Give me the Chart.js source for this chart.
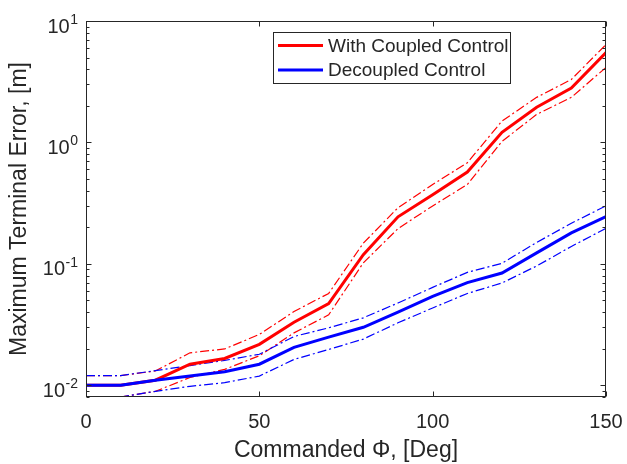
<!DOCTYPE html>
<html>
<head>
<meta charset="utf-8">
<script src="https://cdn.jsdelivr.net/npm/chart.js@4.4.1/dist/chart.umd.min.js"></script>
<style>
  html, body { margin: 0; padding: 0; background: #fff; }
  #wrap { width: 627px; height: 464px; }
</style>
</head>
<body>
<div id="wrap"><canvas id="errChart" width="627" height="464"></canvas></div>
<script>
// commanded roll angle, deg
var phi = [0, 10, 20, 30, 40, 50, 60, 70, 80, 90, 100, 110, 120, 130, 140, 150];

// max terminal error [m]
var coupledMean  = [0.010, 0.010, 0.011, 0.0149, 0.0166, 0.0217, 0.033, 0.047, 0.119, 0.244, 0.37, 0.57, 1.21, 1.95, 2.8, 5.5];
var coupledUpper = [0.012, 0.012, 0.0131, 0.0185, 0.0199, 0.0262, 0.0405, 0.057, 0.148, 0.29, 0.45, 0.68, 1.5, 2.35, 3.3, 6.4];
var coupledLower = [0.008, 0.008, 0.0089, 0.0116, 0.0135, 0.0175, 0.027, 0.038, 0.102, 0.195, 0.30, 0.45, 1.02, 1.7, 2.35, 4.15];

var decoupledMean  = [0.010, 0.010, 0.011, 0.0119, 0.0129, 0.0149, 0.0205, 0.0249, 0.030, 0.040, 0.054, 0.070, 0.084, 0.123, 0.18, 0.245];
var decoupledUpper = [0.012, 0.012, 0.0132, 0.0145, 0.016, 0.018, 0.0252, 0.0297, 0.0359, 0.0476, 0.064, 0.085, 0.101, 0.15, 0.216, 0.30];
var decoupledLower = [0.008, 0.008, 0.0089, 0.0098, 0.0105, 0.0119, 0.0163, 0.0197, 0.024, 0.0327, 0.0433, 0.057, 0.0695, 0.096, 0.139, 0.196];

// tick labels
var xTickValues = [0, 50, 100, 150];
var yTickExponents = [-2, -1, 0, 1];

var seriesNames = ["With Coupled Control", "Decoupled Control"];

var RED = "#ff0000";
var BLUE = "#0000ff";
var INK = "#262626";
var FONT = "'Liberation Sans', Arial, Helvetica, sans-serif";

function pts(vals) {
    return phi.map(function (p, i) { return { x: p, y: vals[i] }; });
}

function mainLine(label, vals, color) {
    return { label: label, data: pts(vals), borderColor: color, borderWidth: 3,
             pointRadius: 0, tension: 0, fill: false, isMain: true };
}
function boundLine(vals, color) {
    return { label: "", data: pts(vals), borderColor: color, borderWidth: 1.2,
             borderDash: [9, 3, 2, 3], pointRadius: 0, tension: 0, fill: false };
}

//box, inward ticks, tick labels, legend
var matlabAxes = {
    id: "matlabAxes",
    afterDraw: function (chart) {
        var c = chart.ctx;
        var a = chart.chartArea;
        var xs = chart.scales.x, ys = chart.scales.y;
        var L = Math.round(a.left) + 0.5, R = Math.round(a.right) - 0.5;
        var T = Math.round(a.top) + 0.5, B = Math.round(a.bottom) - 0.5;
        c.save();
        c.strokeStyle = INK;
        c.lineWidth = 1;
        c.strokeRect(L, T, R - L, B - T);

        c.beginPath();
        xTickValues.forEach(function (v) {
            var px = Math.round(xs.getPixelForValue(v)) + 0.5;
            c.moveTo(px, B); c.lineTo(px, B - 5);
            c.moveTo(px, T); c.lineTo(px, T + 5);
        });
        for (var d = -3; d <= 1; d++) {
            for (var k = 1; k <= 9; k++) {
                var v = k * Math.pow(10, d);
                if (v < ys.min - 1e-12 || v > ys.max + 1e-12) continue;
                var py = Math.round(ys.getPixelForValue(v)) + 0.5;
                var len = k === 1 ? 5 : 3;
                c.moveTo(L, py); c.lineTo(L + len, py);
                c.moveTo(R, py); c.lineTo(R - len, py);
            }
        }
        c.stroke();

        c.fillStyle = INK;
        // x tick labels
        c.font = "20px " + FONT;
        c.textAlign = "center";
        c.textBaseline = "alphabetic";
        xTickValues.forEach(function (v) {
            c.fillText(String(v), xs.getPixelForValue(v), a.bottom + 31);
        });

        // y tick labels 10^n
        c.textAlign = "right";
        yTickExponents.forEach(function (e) {
            var py = ys.getPixelForValue(Math.pow(10, e));
            var xr = a.left - 8;
            c.font = "14px " + FONT;
            var ex = String(e);
            var ew = c.measureText(ex).width;
            c.fillText(ex, xr, py + 3);
            c.font = "20px " + FONT;
            c.fillText("10", xr - ew - 0.5, py + 11.5);
        });

        // legend
        var lx = 273.5, ly = 32.5, lw = 237, lh = 51;
        c.fillStyle = "#fff";
        c.fillRect(lx, ly, lw, lh);
        c.strokeStyle = INK;
        c.lineWidth = 1;
        c.strokeRect(lx, ly, lw, lh);
        var mains = chart.data.datasets.filter(function (ds) { return ds.isMain; });
        mains.sort(function (p, q) { return seriesNames.indexOf(p.label) - seriesNames.indexOf(q.label); });
        c.font = "19px " + FONT;
        c.textAlign = "left";
        c.textBaseline = "middle";
        mains.forEach(function (ds, i) {
            var yy = 45.5 + i * 24.5;
            c.strokeStyle = ds.borderColor;
            c.lineWidth = 3;
            c.beginPath();
            c.moveTo(278, yy); c.lineTo(323, yy);
            c.stroke();
            c.fillStyle = INK;
            c.fillText(ds.label, 328, yy + 1);
        });
        c.restore();
    }
};

var ctx = document.getElementById("errChart").getContext("2d");
window.errChart = new Chart(ctx, {
    type: "line",
    data: {
        datasets: [
            mainLine(seriesNames[1], decoupledMean, BLUE),
            mainLine(seriesNames[0], coupledMean, RED),
            boundLine(decoupledUpper, BLUE),
            boundLine(decoupledLower, BLUE),
            boundLine(coupledUpper, RED),
            boundLine(coupledLower, RED)
        ]
    },
    options: {
        responsive: false,
        animation: false,
        devicePixelRatio: 1,
        layout: { padding: { top: 21, right: 21, left: 0, bottom: 0 } },
        plugins: { legend: { display: false }, tooltip: { enabled: false } },
        scales: {
            x: {
                type: "linear",
                min: 0, max: 150,
                afterFit: function (s) { s.height = 67; s.paddingLeft = 0; s.paddingRight = 0; },
                grid: { display: false },
                border: { display: false },
                ticks: { display: false },
                title: { display: true, text: "Commanded \u03A6, [Deg]", color: INK,
                         font: { family: FONT, size: 23 }, padding: { top: 0, bottom: 0 } }
            },
            y: {
                type: "logarithmic",
                min: 0.008, max: 10,
                afterFit: function (s) { s.width = 86; s.paddingTop = 0; s.paddingBottom = 0; },
                grid: { display: false },
                border: { display: false },
                ticks: { display: false },
                title: { display: true, text: "Maximum Terminal Error, [m]", color: INK,
                         font: { family: FONT, size: 23 }, padding: { top: 6, bottom: 0 } }
            }
        }
    },
    plugins: [matlabAxes]
});
</script>
</body>
</html>
